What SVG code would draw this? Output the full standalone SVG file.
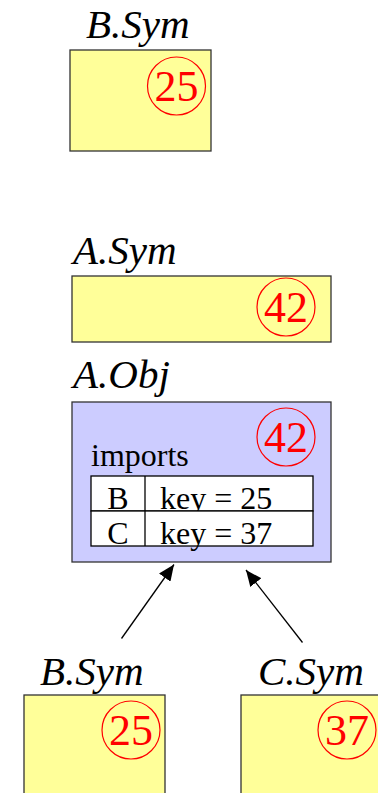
<svg xmlns="http://www.w3.org/2000/svg" width="378" height="793" viewBox="0 0 378 793">
<style>
.lbl{font-family:"Liberation Serif","Times New Roman",serif;font-style:italic;font-size:41px;fill:#000}
.box{fill:#FFFF99;stroke:#333;stroke-width:1.3}
.obj{fill:#CCCCFF;stroke:#333;stroke-width:1.3}
.cir{fill:none;stroke:#FF0000;stroke-width:1.2}
.num{font-family:"Liberation Serif","Times New Roman",serif;font-size:44px;fill:#FF0000;text-anchor:middle}
.t{font-family:"Liberation Serif","Times New Roman",serif;font-size:32px;fill:#000}
.cell{fill:#fff;stroke:#000;stroke-width:1.3}
.arr{stroke:#000;stroke-width:1.3;fill:none;marker-end:url(#ah)}
</style>
<defs>
<marker id="ah" markerUnits="userSpaceOnUse" markerWidth="16" markerHeight="14" refX="16" refY="7" orient="auto">
<path d="M0,0 L16,7 L0,14 Z" fill="#000"/>
</marker>
</defs>
<g id="bsym-top">
<text class="lbl" x="86" y="38">B.Sym</text>
<rect class="box" x="70" y="50" width="141" height="101"/>
<circle class="cir" cx="176.5" cy="86" r="29"/>
<text class="num" x="176.5" y="101">25</text>
</g>
<g id="asym">
<text class="lbl" x="73" y="264">A.Sym</text>
<rect class="box" x="72" y="276" width="259" height="66"/>
<circle class="cir" cx="286" cy="307" r="29"/>
<text class="num" x="286" y="322">42</text>
</g>
<g id="aobj">
<text class="lbl" x="73" y="388">A.Obj</text>
<rect class="obj" x="72" y="402" width="259" height="160"/>
<circle class="cir" cx="286" cy="437" r="29"/>
<text class="num" x="286" y="452">42</text>
<text class="t" x="91" y="466">imports</text>
<rect class="cell" x="91" y="476" width="222" height="35"/>
<line x1="145" y1="476" x2="145" y2="511" stroke="#000" stroke-width="1.3"/>
<text class="t" x="118" y="509" text-anchor="middle">B</text>
<text class="t" x="160" y="509">key = 25</text>
<rect class="cell" x="91" y="511" width="222" height="35"/>
<line x1="145" y1="511" x2="145" y2="546" stroke="#000" stroke-width="1.3"/>
<text class="t" x="118" y="544" text-anchor="middle">C</text>
<text class="t" x="160" y="544">key = 37</text>
</g>
<g id="connectors">
<line class="arr" x1="121.5" y1="638.5" x2="174" y2="564.5"/>
<line class="arr" x1="302.5" y1="642.5" x2="246" y2="570"/>
</g>
<g id="bsym-bottom">
<text class="lbl" x="40" y="685">B.Sym</text>
<rect class="box" x="24" y="695" width="141" height="110"/>
<circle class="cir" cx="131" cy="730" r="29"/>
<text class="num" x="131" y="745">25</text>
</g>
<g id="csym">
<text class="lbl" x="258" y="685">C.Sym</text>
<rect class="box" x="241" y="695" width="150" height="110"/>
<circle class="cir" cx="347" cy="730" r="29"/>
<text class="num" x="347" y="745">37</text>
</g>
</svg>
